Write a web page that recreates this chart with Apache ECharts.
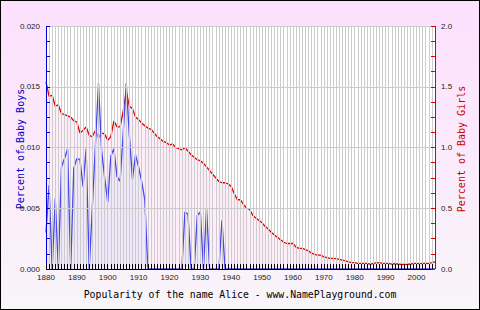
<!DOCTYPE html>
<html>
<head>
<meta charset="utf-8">
<script src="https://cdn.jsdelivr.net/npm/echarts@6/dist/echarts.min.js"></script>
<style>
html,body{margin:0;padding:0;}
body{width:480px;height:310px;background:linear-gradient(#fde0fd,#f9f5f9);position:relative;overflow:hidden;}
#c{width:480px;height:310px;}
#c svg path{shape-rendering:crispEdges;}
#c svg path[stroke-width="1.3"]{shape-rendering:auto;}
#frame{position:absolute;left:0;top:0;width:480px;height:310px;box-sizing:border-box;border:1px solid #000;pointer-events:none;}
</style>
</head>
<body>
<div id="c"></div>
<div id="frame"></div>
<script>
const firstYear = 1880;
const lastYear = 2006;
const titleText = 'Popularity of the name Alice - www.NamePlayground.com';
const boysName = 'Percent of Baby Boys';
const girlsName = 'Percent of Baby Girls';

// Percent of baby boys, 1880..2006
const boys = [
  0.0030, 0.0069, 0.0000, 0.0058, 0.0000, 0.0084, 0.0091, 0.0099, 0.0000, 0.0083,
  0.0091, 0.0090, 0.0068, 0.0099, 0.0000, 0.0051, 0.0102, 0.0153, 0.0098, 0.0075,
  0.0055, 0.0093, 0.0099, 0.0076, 0.0072, 0.0112, 0.0153, 0.0110, 0.0074, 0.0094,
  0.0084, 0.0072, 0.0057, 0.0000, 0.0000, 0.0000, 0.0000, 0.0000, 0.0000, 0.0000,
  0.0000, 0.0000, 0.0000, 0.0000, 0.0000, 0.0047, 0.0045, 0.0000, 0.0000, 0.0044,
  0.0047, 0.0000, 0.0050, 0.0000, 0.0000, 0.0000, 0.0000, 0.0040, 0.0000, 0.0000,
  0,0,0,0,0,0,0,0,0,0,
  0,0,0,0,0,0,0,0,0,0,
  0,0,0,0,0,0,0,0,0,0,
  0,0,0,0,0,0,0,0,0,0,
  0,0,0,0,0,0,0,0,0,0,
  0,0,0,0,0,0,0,0,0,0,
  0,0,0,0,0,0,0
];

// Percent of baby girls, 1880..2006
const girls = [
  1.54, 1.42, 1.43, 1.34, 1.35, 1.28, 1.27, 1.26, 1.25, 1.22,
  1.21, 1.12, 1.14, 1.17, 1.10, 1.09, 1.14, 1.08, 1.12, 1.11,
  1.06, 1.09, 1.22, 1.17, 1.17, 1.30, 1.46, 1.34, 1.32, 1.25,
  1.23, 1.20, 1.18, 1.16, 1.15, 1.12, 1.09, 1.07, 1.05, 1.04,
  1.02, 1.03, 1.00, 0.99, 0.98, 1.00, 0.97, 0.94, 0.92, 0.90,
  0.89, 0.87, 0.84, 0.81, 0.78, 0.75, 0.72, 0.71, 0.71, 0.70,
  0.68, 0.62, 0.57, 0.57, 0.53, 0.50, 0.49, 0.44, 0.42, 0.40,
  0.38, 0.35, 0.33, 0.30, 0.28, 0.26, 0.24, 0.22, 0.21, 0.21,
  0.21, 0.18, 0.17, 0.17, 0.16, 0.15, 0.13, 0.12, 0.115, 0.115,
  0.100, 0.093, 0.088, 0.088, 0.085, 0.080, 0.074, 0.066, 0.058, 0.052,
  0.052, 0.047, 0.047, 0.047, 0.047, 0.041, 0.047, 0.050, 0.052, 0.047,
  0.047, 0.047, 0.041, 0.044, 0.041, 0.038, 0.038, 0.038, 0.041, 0.047,
  0.047, 0.044, 0.047, 0.047, 0.047, 0.052, 0.058
];

const years = boys.map((_, i) => firstYear + i);
const boysData = years.map((y, i) => [y, boys[i]]);
const girlsData = years.map((y, i) => [y, girls[i]]);

const chart = echarts.init(document.getElementById('c'), null, {renderer: 'svg'});
const labelFont = {fontFamily: 'Liberation Sans, Arial, sans-serif', fontSize: 8, color: '#222'};
const monoFont = 'DejaVu Sans Mono, Liberation Mono, monospace';

chart.setOption({
  animation: false,
  backgroundColor: 'transparent',
  grid: {left: 46, right: 45, top: 26, bottom: 41, show: true, backgroundColor: '#ffffff', borderWidth: 0},
  xAxis: {
    type: 'value', min: firstYear, max: lastYear, interval: 1, z: 5,
    axisLine: {lineStyle: {color: '#000', width: 1}},
    axisTick: {inside: true, length: 5, lineStyle: {color: '#000'}},
    splitLine: {show: true, lineStyle: {color: '#cccccc', width: 1}},
    axisLabel: Object.assign({margin: 4, showMaxLabel: false,
      formatter: v => (v % 10 === 0 ? String(v) : '')}, labelFont)
  },
  yAxis: [
    {
      type: 'value', min: 0, max: 0.02, interval: 0.005, position: 'left', z: 5,
      axisLine: {show: true, lineStyle: {color: '#0000dd', width: 1}},
      axisTick: {show: true, inside: true, length: 4, lineStyle: {color: '#0000dd'}},
      minorTick: {show: true, splitNumber: 4, length: 4, lineStyle: {color: '#0000dd'}},
      splitLine: {show: true, lineStyle: {color: '#cccccc', width: 1}},
      axisLabel: Object.assign({margin: 6, formatter: v => v.toFixed(3)}, labelFont)
    },
    {
      type: 'value', min: 0, max: 2, interval: 0.5, position: 'right', z: 5,
      axisLine: {show: true, lineStyle: {color: '#dd0000', width: 1}},
      axisTick: {show: true, inside: true, length: 4, lineStyle: {color: '#dd0000'}},
      minorTick: {show: true, splitNumber: 4, length: 4, lineStyle: {color: '#dd0000'}},
      splitLine: {show: false},
      axisLabel: Object.assign({margin: 6, formatter: v => v.toFixed(1)}, labelFont)
    }
  ],
  series: [
    {
      type: 'line', name: 'girls', yAxisIndex: 1, data: girlsData, symbol: 'none',
      lineStyle: {color: '#e00000', width: 1.3}, z: 2,
      areaStyle: {color: 'rgba(230,47,180,0.12)'}
    },
    {
      type: 'line', name: 'boys', yAxisIndex: 0, data: boysData, symbol: 'none',
      lineStyle: {color: '#4848e8', width: 1.3}, z: 3,
      areaStyle: {color: 'rgba(225,225,250,0.7)'}
    }
  ],
  graphic: [
    {type: 'text', left: 'center', top: 289,
      style: {text: titleText, font: '9.8px ' + monoFont, fill: '#000'}},
    {type: 'text', x: 20, y: 149, rotation: Math.PI / 2,
      style: {text: boysName, font: '10px ' + monoFont, fill: '#0000cc', align: 'center', verticalAlign: 'middle'}},
    {type: 'text', x: 461, y: 149, rotation: Math.PI / 2,
      style: {text: girlsName, font: '10px ' + monoFont, fill: '#cc0000', align: 'center', verticalAlign: 'middle'}}
  ]
});
</script>
</body>
</html>
